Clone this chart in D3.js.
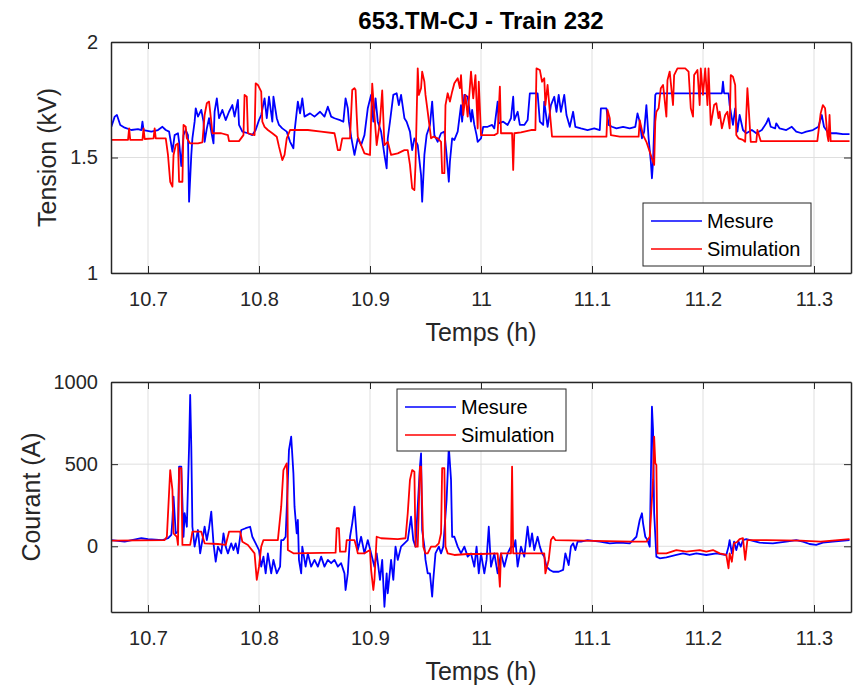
<!DOCTYPE html>
<html lang="fr">
<head>
<meta charset="UTF-8">
<title>653.TM-CJ - Train 232</title>
<style>
  body { margin: 0; background: #fff; }
  svg { display: block; font-family: "Liberation Sans", Arial, Helvetica, sans-serif; }
  .tick text { fill: #262626; font-size: 20px; }
  .tick line { stroke: #262626; }
  .domain { stroke: #262626; }
</style>
<script src="https://d3js.org/d3.v7.min.js"></script>
</head>
<body>
<script>
// ---- data (time in hours) ----
const xTicks = [10.7, 10.8, 10.9, 11, 11.1, 11.2, 11.3];
const tensionTicks = [1, 1.5, 2];
const courantTicks = [0, 500, 1000];
const seriesNames = ["Mesure", "Simulation"];

// Tension (kV), Mesure
const tensionMesure = [
  [10.667,1.633],[10.670,1.677],[10.672,1.684],[10.675,1.641],[10.679,1.629],[10.685,1.619],[10.691,1.623],[10.694,1.619],
  [10.695,1.655],[10.696,1.619],[10.703,1.612],[10.709,1.619],[10.713,1.633],[10.716,1.619],[10.719,1.612],[10.722,1.525],
  [10.724,1.597],[10.727,1.605],[10.728,1.568],[10.730,1.463],[10.732,1.597],[10.734,1.619],[10.736,1.597],[10.737,1.309],
  [10.739,1.511],[10.740,1.583],[10.742,1.655],[10.743,1.713],[10.745,1.677],[10.748,1.706],[10.750,1.655],[10.751,1.568],
  [10.753,1.626],[10.755,1.670],[10.757,1.612],[10.759,1.561],[10.760,1.698],[10.762,1.756],[10.764,1.670],[10.767,1.706],
  [10.770,1.662],[10.773,1.698],[10.776,1.727],[10.778,1.677],[10.781,1.749],[10.782,1.641],[10.785,1.612],[10.790,1.605],
  [10.794,1.597],[10.797,1.619],[10.800,1.662],[10.802,1.684],[10.805,1.756],[10.807,1.670],[10.809,1.763],[10.812,1.655],
  [10.813,1.763],[10.816,1.670],[10.818,1.641],[10.821,1.626],[10.825,1.612],[10.828,1.568],[10.831,1.540],[10.832,1.612],
  [10.835,1.742],[10.837,1.691],[10.839,1.756],[10.841,1.677],[10.846,1.691],[10.850,1.677],[10.855,1.698],[10.859,1.677],
  [10.862,1.720],[10.865,1.677],[10.868,1.670],[10.873,1.662],[10.876,1.655],[10.878,1.756],[10.880,1.713],[10.881,1.655],
  [10.883,1.590],[10.886,1.511],[10.889,1.583],[10.892,1.554],[10.895,1.597],[10.898,1.713],[10.901,1.771],[10.903,1.655],
  [10.905,1.756],[10.907,1.655],[10.910,1.612],[10.913,1.511],[10.915,1.453],[10.916,1.583],[10.918,1.655],[10.921,1.771],
  [10.924,1.778],[10.926,1.727],[10.928,1.771],[10.931,1.670],[10.933,1.655],[10.936,1.612],[10.938,1.532],[10.940,1.583],
  [10.943,1.554],[10.946,1.424],[10.947,1.309],[10.949,1.511],[10.951,1.597],[10.954,1.641],[10.956,1.742],[10.958,1.597],
  [10.961,1.568],[10.964,1.605],[10.967,1.612],[10.969,1.511],[10.971,1.395],[10.972,1.482],[10.974,1.583],[10.976,1.576],
  [10.979,1.612],[10.982,1.727],[10.983,1.655],[10.985,1.771],[10.988,1.763],[10.991,1.655],[10.992,1.706],[10.994,1.641],
  [10.996,1.597],[10.997,1.568],[11.000,1.583],[11.002,1.633],[11.006,1.633],[11.010,1.641],[11.012,1.626],[11.015,1.742],
  [11.016,1.648],[11.020,1.655],[11.024,1.641],[11.027,1.670],[11.029,1.763],[11.030,1.662],[11.033,1.698],[11.035,1.641],
  [11.039,1.641],[11.042,1.662],[11.044,1.778],[11.051,1.778],[11.053,1.655],[11.056,1.641],[11.057,1.742],[11.060,1.633],
  [11.063,1.727],[11.066,1.763],[11.068,1.698],[11.070,1.771],[11.072,1.698],[11.075,1.771],[11.077,1.684],[11.080,1.633],
  [11.083,1.698],[11.085,1.633],[11.090,1.626],[11.096,1.619],[11.102,1.626],[11.107,1.619],[11.108,1.713],[11.113,1.713],
  [11.115,1.641],[11.118,1.633],[11.122,1.626],[11.128,1.633],[11.134,1.626],[11.139,1.633],[11.141,1.691],[11.143,1.655],
  [11.145,1.583],[11.147,1.612],[11.149,1.727],[11.151,1.583],[11.153,1.482],[11.154,1.410],[11.155,1.482],[11.157,1.771],
  [11.158,1.778],[11.185,1.778],[11.217,1.778],[11.218,1.828],[11.219,1.778],[11.223,1.778],[11.224,1.727],[11.227,1.641],
  [11.229,1.713],[11.231,1.612],[11.233,1.684],[11.236,1.619],[11.239,1.605],[11.244,1.619],[11.248,1.605],[11.253,1.619],
  [11.257,1.648],[11.259,1.670],[11.261,1.633],[11.265,1.626],[11.266,1.648],[11.269,1.626],[11.275,1.619],[11.280,1.633],
  [11.284,1.612],[11.289,1.605],[11.293,1.612],[11.299,1.619],[11.304,1.633],[11.307,1.684],[11.309,1.633],[11.313,1.605],
  [11.320,1.605],[11.326,1.601],[11.332,1.601]
];

// Tension (kV), Simulation
const tensionSimulation = [
  [10.667,1.576],[10.682,1.576],[10.683,1.626],[10.684,1.576],[10.695,1.576],[10.696,1.626],[10.697,1.580],[10.705,1.583],
  [10.706,1.626],[10.707,1.583],[10.716,1.583],[10.718,1.511],[10.720,1.395],[10.722,1.374],[10.723,1.511],[10.725,1.554],
  [10.727,1.561],[10.728,1.395],[10.731,1.395],[10.732,1.641],[10.734,1.633],[10.735,1.583],[10.738,1.561],[10.745,1.561],
  [10.749,1.566],[10.751,1.684],[10.753,1.735],[10.755,1.742],[10.757,1.655],[10.758,1.605],[10.766,1.605],[10.772,1.597],
  [10.773,1.571],[10.782,1.571],[10.786,1.597],[10.787,1.771],[10.789,1.763],[10.790,1.605],[10.796,1.597],[10.797,1.821],
  [10.799,1.814],[10.802,1.785],[10.803,1.655],[10.805,1.633],[10.808,1.619],[10.812,1.605],[10.816,1.590],[10.818,1.547],
  [10.821,1.489],[10.823,1.511],[10.825,1.583],[10.828,1.619],[10.844,1.619],[10.856,1.612],[10.868,1.605],[10.869,1.583],
  [10.871,1.532],[10.873,1.532],[10.875,1.583],[10.882,1.583],[10.884,1.792],[10.886,1.800],[10.887,1.792],[10.888,1.684],
  [10.889,1.590],[10.895,1.518],[10.900,1.511],[10.902,1.820],[10.904,1.684],[10.906,1.554],[10.909,1.655],[10.911,1.790],
  [10.913,1.554],[10.916,1.568],[10.919,1.511],[10.925,1.518],[10.931,1.532],[10.934,1.532],[10.936,1.468],[10.938,1.367],
  [10.940,1.359],[10.941,1.468],[10.943,1.886],[10.944,1.771],[10.946,1.800],[10.947,1.872],[10.949,1.828],[10.950,1.771],
  [10.952,1.698],[10.955,1.583],[10.957,1.590],[10.961,1.583],[10.964,1.568],[10.965,1.432],[10.967,1.432],[10.968,1.727],
  [10.970,1.778],[10.972,1.742],[10.974,1.785],[10.976,1.821],[10.979,1.843],[10.981,1.800],[10.982,1.857],[10.984,1.684],
  [10.986,1.771],[10.988,1.677],[10.991,1.872],[10.993,1.756],[10.995,1.857],[10.997,1.626],[10.998,1.828],[11.000,1.597],
  [11.012,1.597],[11.015,1.605],[11.017,1.807],[11.018,1.605],[11.028,1.605],[11.029,1.446],[11.030,1.605],[11.036,1.609],
  [11.045,1.619],[11.049,1.619],[11.050,1.886],[11.053,1.879],[11.055,1.828],[11.057,1.843],[11.058,1.727],[11.060,1.814],
  [11.062,1.698],[11.064,1.590],[11.113,1.590],[11.114,1.706],[11.116,1.670],[11.117,1.597],[11.125,1.590],[11.142,1.590],
  [11.143,1.662],[11.146,1.597],[11.149,1.568],[11.152,1.525],[11.154,1.496],[11.156,1.468],[11.157,1.655],[11.158,1.698],
  [11.160,1.713],[11.162,1.800],[11.164,1.814],[11.165,1.771],[11.167,1.677],[11.168,1.835],[11.170,1.872],[11.173,1.727],
  [11.174,1.857],[11.177,1.886],[11.184,1.886],[11.187,1.872],[11.189,1.713],[11.191,1.677],[11.192,1.857],[11.195,1.879],
  [11.197,1.727],[11.198,1.886],[11.200,1.771],[11.202,1.886],[11.204,1.727],[11.205,1.886],[11.207,1.641],[11.210,1.727],
  [11.212,1.735],[11.214,1.670],[11.215,1.698],[11.217,1.626],[11.220,1.684],[11.222,1.698],[11.224,1.626],[11.225,1.857],
  [11.227,1.850],[11.229,1.814],[11.230,1.597],[11.232,1.583],[11.236,1.576],[11.238,1.568],[11.240,1.800],[11.241,1.727],
  [11.243,1.568],[11.248,1.568],[11.249,1.619],[11.252,1.571],[11.303,1.571],[11.306,1.691],[11.308,1.727],[11.310,1.713],
  [11.312,1.597],[11.313,1.571],[11.314,1.684],[11.315,1.571],[11.332,1.571]
];

// Courant (A), Mesure
const courantMesure = [
  [10.667,38],[10.679,28],[10.694,49],[10.700,43],[10.713,38],[10.718,49],[10.721,69],[10.722,160],[10.723,302],[10.725,79],
  [10.727,89],[10.728,485],[10.730,485],[10.732,58],[10.733,201],[10.735,119],[10.737,606],[10.738,921],[10.739,606],[10.740,119],
  [10.742,-2],[10.745,99],[10.747,-43],[10.749,38],[10.751,119],[10.753,38],[10.755,110],[10.757,211],[10.759,18],[10.761,-94],
  [10.763,-2],[10.766,-43],[10.768,79],[10.770,-2],[10.772,-43],[10.775,18],[10.777,-23],[10.779,18],[10.781,-43],[10.783,58],
  [10.784,99],[10.788,110],[10.792,119],[10.794,58],[10.797,18],[10.800,-23],[10.802,-124],[10.804,-63],[10.806,-165],[10.808,-43],
  [10.811,-165],[10.813,-83],[10.816,-165],[10.819,-124],[10.820,38],[10.822,38],[10.824,58],[10.826,404],[10.827,586],[10.829,667],
  [10.831,444],[10.832,241],[10.834,79],[10.835,160],[10.836,-83],[10.838,-165],[10.839,-2],[10.842,-124],[10.844,-43],[10.847,-124],
  [10.850,-83],[10.853,-124],[10.856,-63],[10.859,-124],[10.862,-83],[10.865,-103],[10.868,-83],[10.871,-124],[10.874,-103],[10.877,-165],
  [10.878,-266],[10.880,-165],[10.882,58],[10.884,140],[10.886,241],[10.888,58],[10.889,-23],[10.892,58],[10.895,-43],[10.898,38],
  [10.901,-43],[10.904,-124],[10.906,-43],[10.909,-205],[10.911,-83],[10.913,-368],[10.915,-165],[10.916,-286],[10.919,-83],[10.921,-205],
  [10.923,-2],[10.925,-83],[10.928,-2],[10.931,18],[10.934,38],[10.937,180],[10.939,38],[10.941,-2],[10.943,241],[10.945,485],
  [10.946,566],[10.947,99],[10.949,-2],[10.950,-83],[10.952,-165],[10.954,-165],[10.956,-307],[10.957,-205],[10.959,-43],[10.962,-2],
  [10.964,-43],[10.966,-2],[10.969,282],[10.970,444],[10.971,606],[10.973,404],[10.974,58],[10.976,58],[10.979,-2],[10.982,-43],
  [10.985,-2],[10.988,-63],[10.991,-43],[10.994,-124],[10.996,-2],[10.998,-165],[11.000,-43],[11.003,-165],[11.005,-83],[11.007,119],
  [11.009,-124],[11.012,-43],[11.015,-165],[11.018,-43],[11.021,-124],[11.024,-43],[11.027,-2],[11.030,-2],[11.031,38],[11.033,-124],
  [11.036,-2],[11.039,-63],[11.042,119],[11.044,-2],[11.046,79],[11.048,-23],[11.051,58],[11.053,-2],[11.055,-43],[11.057,-63],
  [11.059,-124],[11.062,-144],[11.065,-155],[11.070,-155],[11.074,-144],[11.076,-43],[11.079,-114],[11.081,-2],[11.083,18],[11.085,-23],
  [11.087,28],[11.090,28],[11.096,38],[11.107,28],[11.116,18],[11.125,22],[11.134,18],[11.137,38],[11.140,58],[11.143,160],
  [11.145,201],[11.146,140],[11.148,58],[11.150,38],[11.152,-2],[11.153,404],[11.154,850],[11.155,708],[11.156,201],[11.158,-63],
  [11.161,-73],[11.167,-67],[11.176,-53],[11.182,-43],[11.188,-53],[11.194,-43],[11.203,-53],[11.212,-43],[11.221,-53],[11.223,-2],
  [11.224,38],[11.226,-43],[11.228,28],[11.230,-23],[11.232,28],[11.234,-2],[11.236,38],[11.239,43],[11.251,22],[11.263,18],
  [11.275,28],[11.284,38],[11.290,28],[11.296,14],[11.302,8],[11.308,22],[11.317,28],[11.332,38]
];

// Courant (A), Simulation
const courantSimulation = [
  [10.667,34],[10.715,38],[10.717,58],[10.720,464],[10.722,343],[10.723,79],[10.726,58],[10.727,8],[10.728,475],[10.730,475],
  [10.731,8],[10.738,8],[10.740,89],[10.748,89],[10.751,18],[10.763,14],[10.770,8],[10.773,89],[10.783,89],[10.785,28],
  [10.790,8],[10.796,-43],[10.798,-205],[10.800,-124],[10.802,-2],[10.804,38],[10.817,38],[10.820,241],[10.822,464],[10.825,505],
  [10.8255,404],[10.826,-23],[10.831,-43],[10.869,-39],[10.870,110],[10.872,110],[10.873,-33],[10.878,-33],[10.879,38],[10.886,38],
  [10.888,-12],[10.889,-43],[10.895,-43],[10.900,-23],[10.901,-144],[10.903,-266],[10.904,-205],[10.906,58],[10.910,49],[10.925,43],
  [10.932,49],[10.934,201],[10.936,404],[10.938,464],[10.940,454],[10.941,-2],[10.943,-2],[10.945,485],[10.946,485],[10.948,-2],
  [10.950,-43],[10.952,-43],[10.955,-2],[10.959,-2],[10.962,18],[10.964,79],[10.965,475],[10.967,475],[10.968,-2],[10.970,-43],
  [10.976,-53],[10.988,-47],[11.000,-47],[11.015,-43],[11.017,-246],[11.018,-43],[11.027,-43],[11.028,485],[11.029,-43],[11.057,-43],
  [11.058,-165],[11.061,-83],[11.063,38],[11.065,58],[11.067,38],[11.137,28],[11.149,28],[11.152,58],[11.155,404],[11.156,667],
  [11.157,505],[11.158,495],[11.159,-43],[11.167,-43],[11.176,-23],[11.185,-33],[11.197,-23],[11.203,-33],[11.209,-23],[11.215,-43],
  [11.221,-53],[11.223,-134],[11.224,-43],[11.226,-94],[11.228,18],[11.231,28],[11.233,43],[11.236,49],[11.238,-83],[11.240,38],
  [11.257,38],[11.288,34],[11.306,28],[11.332,43]
];

// ---- drawing ----
const W = 855, H = 688;
const colors = ["#0000ff", "#ff0000"];

const svg = d3.select("body").append("svg")
  .attr("width", W)
  .attr("height", H);

const x = d3.scaleLinear()
  .domain([10 + 40 / 60, 11 + 20 / 60])
  .range([111, 851]);

const fmt = d => String(+d.toFixed(1));

function drawPanel(p) {
  const y = d3.scaleLinear().domain(p.yDomain).range([p.bottom, p.top]);
  const g = svg.append("g");
  const id = "clip" + p.top;

  g.append("clipPath").attr("id", id)
    .append("rect")
    .attr("x", x.range()[0]).attr("y", p.top)
    .attr("width", x.range()[1] - x.range()[0]).attr("height", p.bottom - p.top);

  // grid
  g.append("g").selectAll("line").data(xTicks).join("line")
    .attr("x1", d => x(d)).attr("x2", d => x(d))
    .attr("y1", p.top).attr("y2", p.bottom)
    .attr("stroke", "#dfdfdf");
  g.append("g").selectAll("line").data(p.yTicks).join("line")
    .attr("x1", x.range()[0]).attr("x2", x.range()[1])
    .attr("y1", d => y(d)).attr("y2", d => y(d))
    .attr("stroke", "#dfdfdf");

  // lines, simulation drawn over mesure
  const line = d3.line().x(d => x(d[0])).y(d => y(d[1]));
  g.append("g").attr("clip-path", `url(#${id})`)
    .selectAll("path").data(p.series).join("path")
    .attr("d", d => line(d))
    .attr("fill", "none")
    .attr("stroke", (d, i) => colors[i])
    .attr("stroke-width", 1.8)
    .attr("stroke-linejoin", "round");

  // axes (ticks inside, box on)
  g.append("g").attr("transform", `translate(0,${p.bottom})`)
    .call(d3.axisBottom(x).tickValues(xTicks).tickFormat(fmt).tickSizeInner(-7).tickSizeOuter(0).tickPadding(19));
  g.append("g").attr("transform", `translate(0,${p.top})`)
    .call(d3.axisTop(x).tickValues(xTicks).tickFormat("").tickSizeInner(-7).tickSizeOuter(0));
  g.append("g").attr("transform", `translate(${x.range()[0]},0)`)
    .call(d3.axisLeft(y).tickValues(p.yTicks).tickFormat(fmt).tickSizeInner(-7).tickSizeOuter(0).tickPadding(13));
  g.append("g").attr("transform", `translate(${x.range()[1]},0)`)
    .call(d3.axisRight(y).tickValues(p.yTicks).tickFormat("").tickSizeInner(-7).tickSizeOuter(0));
  g.selectAll(".domain").attr("stroke-width", 1.5);
  g.selectAll(".tick text").attr("font-family", null).attr("font-size", null);

  // axis labels
  g.append("text")
    .attr("x", (x.range()[0] + x.range()[1]) / 2).attr("y", p.bottom + 59)
    .attr("text-anchor", "middle").attr("dominant-baseline", "central")
    .attr("font-size", 25).attr("fill", "#262626")
    .text("Temps (h)");
  g.append("text")
    .attr("transform", `translate(${p.yLabelX},${(p.top + p.bottom) / 2}) rotate(-90)`)
    .attr("text-anchor", "middle").attr("dominant-baseline", "central")
    .attr("font-size", 25).attr("fill", "#262626")
    .text(p.yLabel);

  // legend
  const L = p.legend;
  const lg = g.append("g").attr("transform", `translate(${L.x},${L.y})`);
  lg.append("rect").attr("width", L.w).attr("height", L.h)
    .attr("fill", "#fff").attr("stroke", "#262626").attr("stroke-width", 1);
  seriesNames.forEach((name, i) => {
    const ry = 18 + i * 28;
    lg.append("line").attr("x1", 8).attr("x2", 59).attr("y1", ry).attr("y2", ry)
      .attr("stroke", colors[i]).attr("stroke-width", 1.5);
    lg.append("text").attr("x", 64).attr("y", ry)
      .attr("dominant-baseline", "central")
      .attr("font-size", 20).attr("fill", "#000")
      .text(name);
  });
}

svg.append("text")
  .attr("x", 481).attr("y", 29)
  .attr("text-anchor", "middle")
  .attr("font-size", 24).attr("font-weight", "bold").attr("fill", "#000")
  .text("653.TM-CJ - Train 232");

drawPanel({
  top: 42, bottom: 273,
  yDomain: [1, 2], yTicks: tensionTicks,
  yLabel: "Tension (kV)", yLabelX: 47,
  series: [tensionMesure, tensionSimulation],
  legend: { x: 643, y: 203, w: 168, h: 63 }
});

drawPanel({
  top: 382, bottom: 612,
  yDomain: [-400, 1000], yTicks: courantTicks,
  yLabel: "Courant (A)", yLabelX: 31,
  series: [courantMesure, courantSimulation],
  legend: { x: 397, y: 389, w: 169, h: 62 }
});
</script>
</body>
</html>
